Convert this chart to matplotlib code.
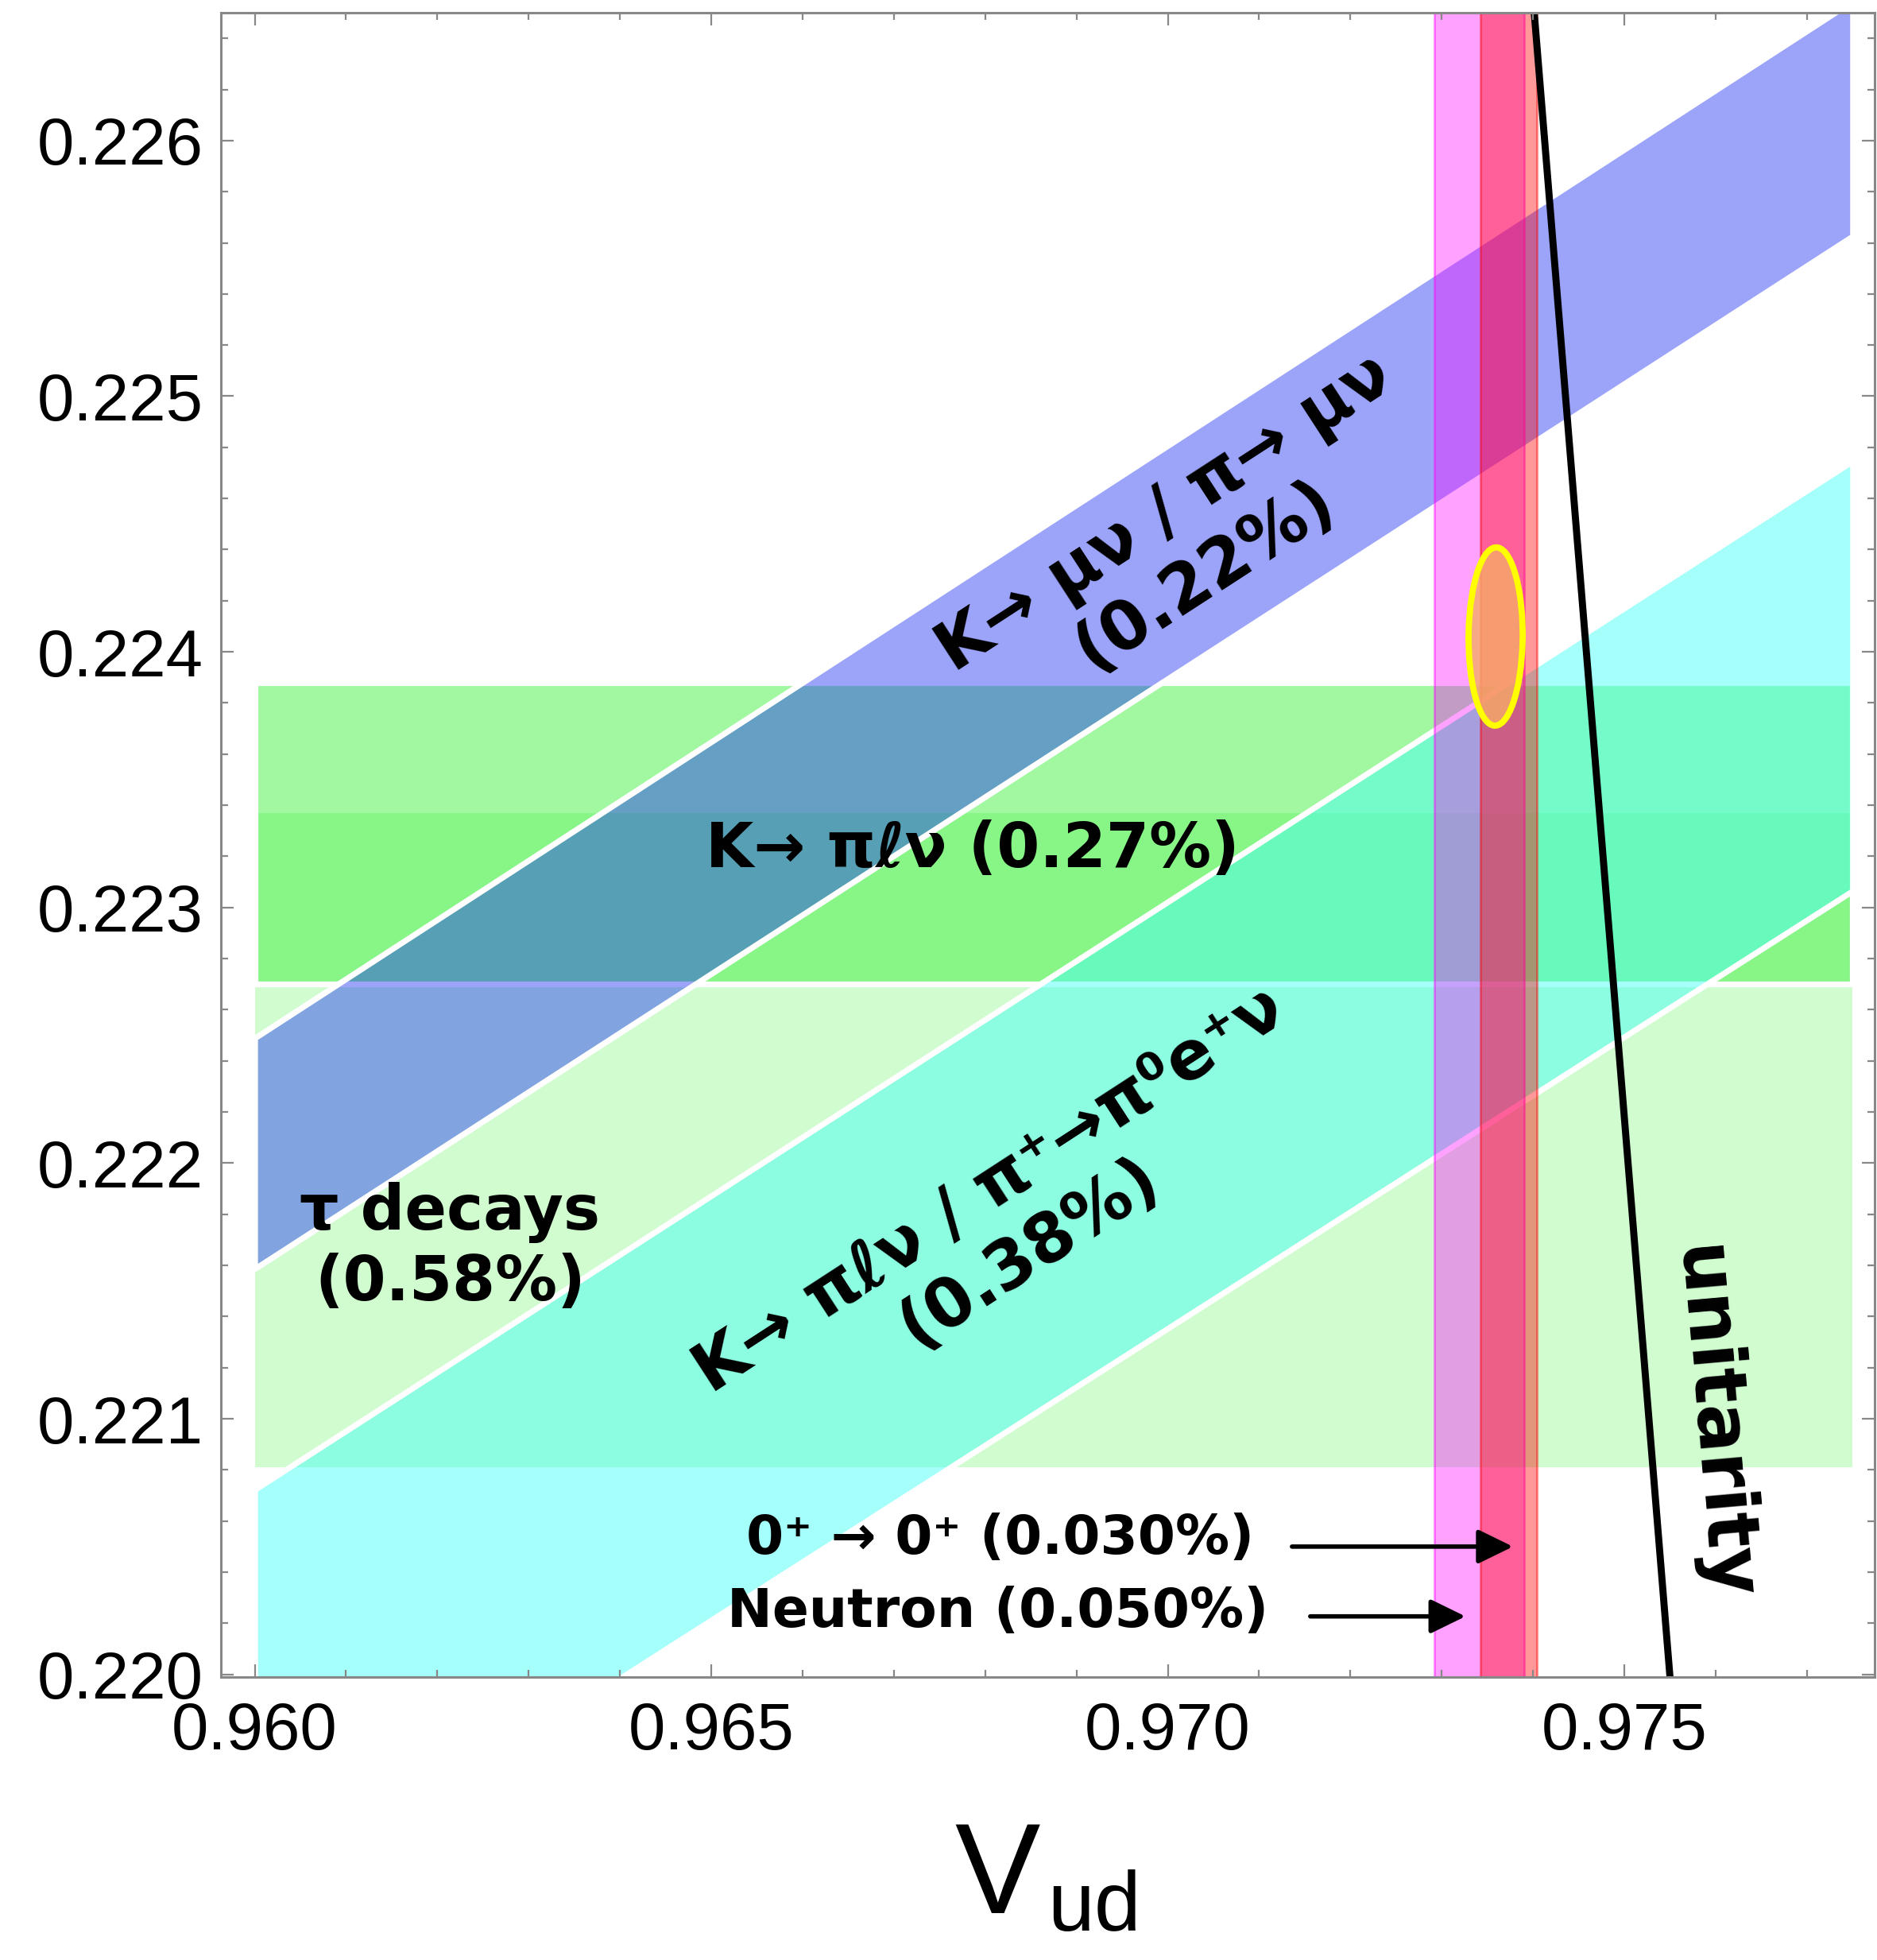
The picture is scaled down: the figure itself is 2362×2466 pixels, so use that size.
import numpy as np
import matplotlib
matplotlib.use("Agg")
import matplotlib.pyplot as plt
from matplotlib.patches import Ellipse
from matplotlib.ticker import MultipleLocator, FormatStrFormatter

# ---------------- DATA ----------------

band_vud = [0.960, 0.9775]          # x extent of the Vus / ratio bands

tau_vus, tau_err = 0.22209, 0.00128          # tau decays (0.58%)
kl3_vus, kl3_err = 0.22329, 0.00059          # K -> pi l nu (0.27%)

kmu2_ratio, kmu2_err = 0.23129, 0.00047      # Vus/Vud, K->mu nu / pi->mu nu (0.22%)
kl3pi_ratio, kl3pi_err = 0.22906, 0.00086    # Vus/Vud, K->pi l nu / pi+->pi0 e+ nu (0.38%)

superallowed_vud, superallowed_err = 0.97373, 0.00031   # 0+ -> 0+ (0.030%)
neutron_vud, neutron_err = 0.97341, 0.00049             # neutron (0.050%)

fit_center = (0.97359, 0.22406)
fit_halfwidth = (0.000296, 0.000349)
fit_tilt = -4

unitarity_vud = [0.97399, 0.97552]
unitarity_vus = [0.2266, 0.2199]

# ---------------- STYLE ----------------

plt.rcParams["font.family"] = ["Liberation Sans", "DejaVu Sans"]
plt.rcParams["mathtext.fontset"] = "custom"
plt.rcParams["mathtext.rm"] = "Liberation Sans"

LABEL_FONT = ["DejaVu Sans"]
LABEL_SIZE = 28
GRAY = "#888888"

# ---------------- FIGURE ----------------

fig = plt.figure(figsize=(11.81, 12.33), dpi=200)
ax = fig.add_axes([0.1177, 0.1444, 0.881, 0.8491])

x = np.array(band_vud)

# horizontal Vus bands
ax.fill_between(x, tau_vus - tau_err, tau_vus + tau_err,
                facecolor="#d0fcd0", edgecolor="none", zorder=1)
ax.fill_between(x, kl3_vus - kl3_err, kl3_vus + kl3_err,
                facecolor=(48/255, 240/255, 48/255, 0.45),
                edgecolor="white", lw=2.6, zorder=2)

# ratio bands (Vus = r * Vud)
ax.fill_between(x, (kmu2_ratio - kmu2_err) * x, (kmu2_ratio + kmu2_err) * x,
                facecolor=(20/255, 40/255, 245/255, 0.42),
                edgecolor="white", lw=2.6, zorder=3)
ax.fill_between(x, (kl3pi_ratio - kl3pi_err) * x, (kl3pi_ratio + kl3pi_err) * x,
                facecolor=(73/255, 1.0, 245/255, 0.49),
                edgecolor="white", lw=2.6, zorder=4)

# vertical Vud bands
ax.axvspan(neutron_vud - neutron_err, neutron_vud + neutron_err,
           facecolor=(1, 0, 1, 0.37), edgecolor=(1, 0, 1, 0.45), lw=1, zorder=5)
ax.axvspan(superallowed_vud - superallowed_err, superallowed_vud + superallowed_err,
           facecolor=(1, 0, 0, 0.40), edgecolor=(1, 0, 0, 0.45), lw=1, zorder=6)

# unitarity
ax.plot(unitarity_vud, unitarity_vus, color="black", lw=3.2,
        solid_capstyle="butt", zorder=7)

# fit ellipse
ax.add_patch(Ellipse(fit_center, 2 * fit_halfwidth[0], 2 * fit_halfwidth[1],
                     angle=fit_tilt, facecolor=(246/255, 172/255, 104/255, 0.8),
                     edgecolor="#ffff00", lw=2.8, zorder=8))

# ---------------- LABELS ----------------

txt = dict(family=LABEL_FONT, fontweight="bold", color="black", zorder=9)

ax.text(0.97019, 0.22442, "K\u2192 \u03bc\u03bd / \u03c0\u2192 \u03bc\u03bd\n(0.22%)",
        rotation=33, rotation_mode="anchor", ha="center", va="center",
        multialignment="center", linespacing=1.15, fontsize=30.5, **txt)
ax.text(0.96786, 0.223225, "K\u2192 \u03c0\u2113\u03bd (0.27%)",
        ha="center", va="center", fontsize=LABEL_SIZE, **txt)
ax.text(0.96214, 0.22167, "\u03c4 decays\n(0.58%)",
        ha="center", va="center", multialignment="center", linespacing=1.2,
        fontsize=LABEL_SIZE, **txt)
ax.text(0.96827, 0.22177,
        "K\u2192 \u03c0\u2113\u03bd / \u03c0\u207a\u2192\u03c0\u2070e\u207a\u03bd\n(0.38%)",
        rotation=33, rotation_mode="anchor", ha="center", va="center",
        multialignment="center", linespacing=1.15, fontsize=30.5, **txt)
ax.text(0.96816, 0.22053, "0\u207a \u2192 0\u207a (0.030%)",
        ha="center", va="center", fontsize=24.5, **txt)
ax.text(0.96814, 0.220246, "Neutron (0.050%)",
        ha="center", va="center", fontsize=24.5, **txt)
ax.text(0.97596, 0.22098, "unitarity", rotation=-85, rotation_mode="anchor",
        ha="center", va="center", fontsize=33, **txt)

arrow = dict(arrowstyle="-|>,head_length=0.45,head_width=0.22", color="black",
             lw=2, mutation_scale=30, shrinkA=0, shrinkB=0)
ax.annotate("", xy=(0.97378, 0.2205), xytext=(0.97136, 0.2205),
            arrowprops=arrow, zorder=9)
ax.annotate("", xy=(0.97326, 0.220227), xytext=(0.97156, 0.220227),
            arrowprops=arrow, zorder=9)

# ---------------- AXES ----------------

ax.set_xlim(0.95963, 0.97774)
ax.set_ylim(0.21999, 0.2265)

ax.xaxis.set_major_locator(MultipleLocator(0.005))
ax.xaxis.set_minor_locator(MultipleLocator(0.001))
ax.yaxis.set_major_locator(MultipleLocator(0.001))
ax.yaxis.set_minor_locator(MultipleLocator(0.0002))
ax.xaxis.set_major_formatter(FormatStrFormatter("%.3f"))
ax.yaxis.set_major_formatter(FormatStrFormatter("%.3f"))

ax.tick_params(which="both", direction="in", top=True, right=True,
               color=GRAY, width=0.8)
ax.tick_params(which="major", length=5.8, labelsize=30)
ax.tick_params(which="minor", length=3.2)
ax.tick_params(axis="y", pad=8)
ax.tick_params(axis="x", pad=11)

for spine in ax.spines.values():
    spine.set_color(GRAY)
    spine.set_linewidth(1.1)
    spine.set_zorder(10)
ax.xaxis.set_zorder(10)
ax.yaxis.set_zorder(10)

# axis title V_ud, two pieces so the subscript sits like the original
fig.text(0.5546, 0.010, r"$\mathrm{V}$", fontsize=58, ha="right", va="bottom")
fig.text(0.5580, 0.006, r"$\mathrm{ud}$", fontsize=38, ha="left", va="bottom")

fig.savefig("out.png", dpi=200)
